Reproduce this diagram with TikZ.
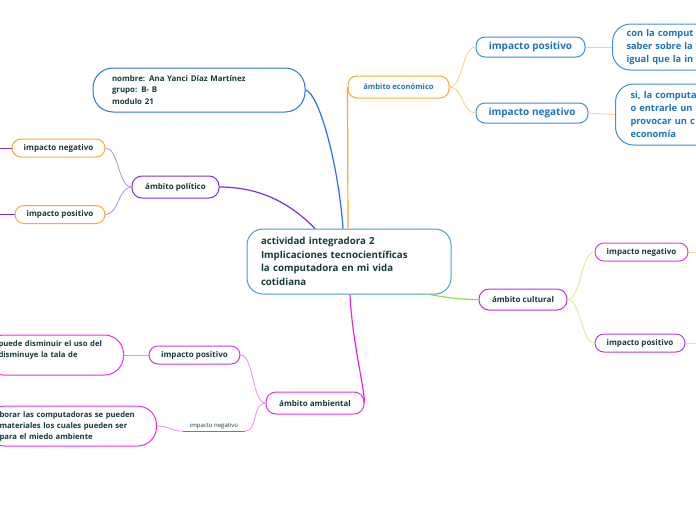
\documentclass[tikz,border=0pt]{standalone}
\usepackage{fontspec}
\setmainfont{Open Sans}
\definecolor{ink}{HTML}{173A3A}
\definecolor{econtext}{HTML}{1E73BE}
\definecolor{blueN}{HTML}{2E6EF0}
\definecolor{centralB}{HTML}{4B9BD6}
\definecolor{orangeA}{HTML}{FFA631}
\definecolor{orangeL}{HTML}{FFCB80}
\definecolor{econB}{HTML}{3D8FD8}
\definecolor{purpleP}{HTML}{7B2EE6}
\definecolor{purpleL}{HTML}{B48AF5}
\definecolor{cultB}{HTML}{B830E8}
\definecolor{greenA}{HTML}{8EE03A}
\definecolor{greenL}{HTML}{C8F58A}
\definecolor{cultN}{HTML}{D83EE8}
\definecolor{cultP}{HTML}{B33FE6}
\definecolor{ambB}{HTML}{E530E8}
\definecolor{ambA}{HTML}{EE22EE}
\definecolor{ambL}{HTML}{F28CF2}
\definecolor{ambP}{HTML}{C23CF0}
\tikzset{
  mm/.style={draw, fill=white, rounded corners=9pt, line width=1pt, inner sep=0pt,
    text=ink, align=center, font=\bfseries\fontsize{8}{10}\selectfont},
  bigbox/.style={draw, fill=white, line width=1pt, inner ysep=0pt, inner xsep=14pt,
    text=ink, align=left},
  conn/.style={line width=1.2pt},
  subconn/.style={line width=0.8pt}
}
\begin{document}
\begin{tikzpicture}[x=1pt,y=-1pt]
\useasboundingbox (0,0) rectangle (696,520);

% central
\node[bigbox, draw=centralB, rounded corners=16pt, minimum width=204pt, minimum height=65pt,
  text width=176pt, font=\bfseries\fontsize{9.7}{13.5}\selectfont] (central) at (349,261.5)
  {actividad integradora 2\\Implicaciones tecnocientíficas\\la computadora en mi vida\\cotidiana};

% nombre
\node[bigbox, draw=blueN, rounded corners=20pt, minimum width=212pt, minimum height=44pt,
  inner xsep=19pt, text width=174pt, font=\bfseries\fontsize{7.9}{11.5}\selectfont] (nombre) at (199,90)
  {nombre: Ana Yanci Díaz Martínez\\grupo: B- B\\modulo 21};

% economico
\node[mm, draw=orangeA, text=econtext, minimum width=101pt, minimum height=22pt,
  font=\bfseries\fontsize{7.6}{9}\selectfont] (econ) at (398.5,87) {ámbito económico};
\node[mm, draw=econB, text=econtext, minimum width=109pt, minimum height=20pt,
  font=\bfseries\fontsize{10}{12}\selectfont] (epos) at (530.5,47) {impacto positivo};
\node[mm, draw=econB, text=econtext, minimum width=112pt, minimum height=20pt,
  font=\bfseries\fontsize{10}{12}\selectfont] (eneg) at (532,113) {impacto negativo};
\node[bigbox, draw=econB, text=econtext, rounded corners=18pt, anchor=west, minimum height=46pt,
  text width=110pt, font=\bfseries\fontsize{9.3}{13}\selectfont] (eposbox) at (612,47)
  {con la comput\\saber sobre la\\igual que la in};
\node[bigbox, draw=econB, text=econtext, rounded corners=18pt, anchor=west, minimum height=61pt,
  inner xsep=15pt, text width=110pt, font=\bfseries\fontsize{9.3}{13}\selectfont] (enegbox) at (615,114.5)
  {si, la computa\\o entrarle un\\provocar un c\\economía};

% politico
\node[mm, draw=purpleP, minimum width=87pt, minimum height=22pt, rounded corners=10pt] (pol) at (175.5,187) {ámbito político};
\node[mm, draw=orangeA, minimum width=93pt, minimum height=18pt] (pneg) at (58.5,148) {impacto negativo};
\node[mm, draw=orangeA, minimum width=90pt, minimum height=18pt] (ppos) at (60,214.5) {impacto positivo};
\coordinate (pnegend) at (0,148);
\coordinate (pposend) at (0,214.5);

% cultural
\node[mm, draw=cultB, minimum width=88pt, minimum height=21pt, rounded corners=10pt] (cult) at (523,299.5) {ámbito cultural};
\node[mm, draw=cultN, minimum width=93pt, minimum height=18pt] (cneg) at (641.5,252) {impacto negativo};
\node[mm, draw=cultP, minimum width=90pt, minimum height=18pt] (cpos) at (640,343) {impacto positivo};
\coordinate (cnegend) at (696,252);
\coordinate (cposend) at (696,343);

% ambiental
\node[mm, draw=ambB, minimum width=98pt, minimum height=22pt, rounded corners=10pt] (amb) at (315,403) {ámbito ambiental};
\node[mm, draw=ambP, minimum width=91pt, minimum height=18pt] (apos) at (194.5,355) {impacto positivo};
\node[bigbox, draw=ambB, rounded corners=19pt, anchor=east, minimum height=40pt, text width=111pt,
  font=\bfseries\fontsize{7.7}{11}\selectfont] (aposbox) at (124,355)
  {puede disminuir el uso del\\disminuye la tala de\\\mbox{}};
\node[inner sep=0pt, minimum width=62pt, minimum height=10pt, text=ink,
  font=\fontsize{6}{7}\selectfont] (aneg) at (214,426) {impacto negativo};
\node[bigbox, draw=ambB, rounded corners=19pt, anchor=east, minimum height=40pt, text width=143pt,
  font=\bfseries\fontsize{7.7}{11}\selectfont] (anegbox) at (157,426)
  {borar las computadoras se pueden\\materiales los cuales pueden ser\\para el miedo ambiente};

% main connectors
\draw[conn, blueN] (nombre.east) .. controls (318,92) and (338,160) .. ([xshift=-6pt]central.north);
\draw[conn, orangeA] ([xshift=-1pt]central.north) -- (econ.west);
\draw[conn, purpleP] (pol.east) .. controls (262,187) and (292,205) .. ([xshift=-34pt]central.north);
\draw[conn, greenA] ([xshift=-22pt]central.south east) .. controls (450,298) and (460,299.5) .. (cult.west);
\draw[conn, ambA] ([xshift=1pt]central.south) .. controls (352,340) and (364,385) .. (amb.east);

% sub connectors
\draw[subconn, orangeL] (econ.east) .. controls (463,87) and (462,47) .. (epos.west);
\draw[subconn, orangeL] (econ.east) .. controls (463,87) and (462,113) .. (eneg.west);
\draw[subconn, orangeL] (epos.east) -- (eposbox.west);
\draw[subconn, orangeL] (eneg.east) -- (enegbox.west);

\draw[subconn, purpleL] (pol.west) .. controls (118,187) and (119,148) .. (pneg.east);
\draw[subconn, purpleL] (pol.west) .. controls (118,187) and (119,214.5) .. (ppos.east);
\draw[subconn, purpleP] (pneg.west) -- (pnegend);
\draw[subconn, purpleP] (ppos.west) -- (pposend);

\draw[subconn, greenL] (cult.east) .. controls (581,299.5) and (581,252) .. (cneg.west);
\draw[subconn, greenL] (cult.east) .. controls (581,299.5) and (581,343) .. (cpos.west);
\draw[subconn, greenL] (cneg.east) -- (cnegend);
\draw[subconn, greenL] (cpos.east) -- (cposend);

\draw[subconn, ambL] (amb.west) .. controls (252,403) and (254,355) .. (apos.east);
\draw[subconn, ambL] (amb.west) .. controls (252,403) and (258,431) .. (aneg.south east);
\draw[subconn, ambB] (aneg.south east) -- (aneg.south west);
\draw[subconn, ambL] (aneg.south west) .. controls (170,431) and (170,426) .. (anegbox.east);
\draw[subconn, ambL] (apos.west) -- (aposbox.east);
\end{tikzpicture}
\end{document}
